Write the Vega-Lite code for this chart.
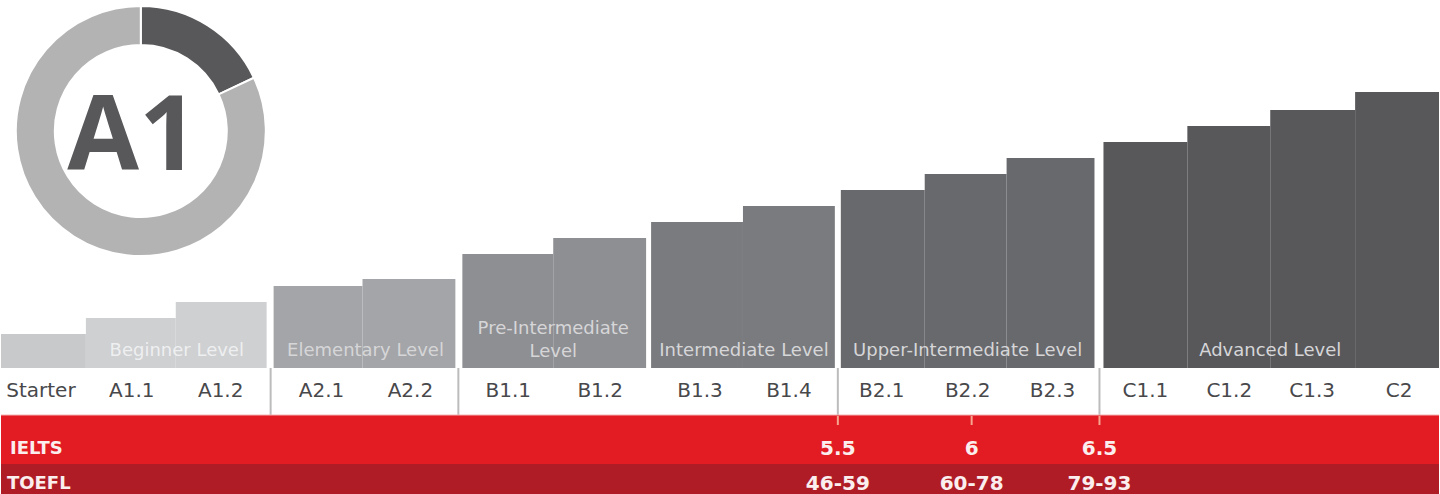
{
  "$schema": "https://vega.github.io/schema/vega-lite/v6.json",
  "width": 1440,
  "height": 494,
  "autosize": {"type": "fit", "contains": "padding"},
  "padding": 0,
  "background": "white",
  "config": {
    "view": {"stroke": null},
    "axis": {"disable": true},
    "text": {"font": "DejaVu Sans"}
  },
  "datasets": {
    "levels": [
      {"level": "Starter", "group": "Starter", "start": 0, "end": 85, "top": 34, "mid": 40},
      {"level": "A1.1", "group": "Beginner", "start": 85, "end": 175, "top": 50, "mid": 131},
      {"level": "A1.2", "group": "Beginner", "start": 175, "end": 266, "top": 66, "mid": 220},
      {"level": "A2.1", "group": "Elementary", "start": 273, "end": 362, "top": 82, "mid": 321},
      {"level": "A2.2", "group": "Elementary", "start": 362, "end": 455, "top": 89, "mid": 410},
      {"level": "B1.1", "group": "Pre-Intermediate", "start": 462, "end": 553, "top": 114, "mid": 508},
      {"level": "B1.2", "group": "Pre-Intermediate", "start": 553, "end": 646, "top": 130, "mid": 600},
      {"level": "B1.3", "group": "Intermediate", "start": 651, "end": 743, "top": 146, "mid": 700},
      {"level": "B1.4", "group": "Intermediate", "start": 743, "end": 835, "top": 162, "mid": 789},
      {"level": "B2.1", "group": "Upper-Intermediate", "start": 841, "end": 925, "top": 178, "mid": 882},
      {"level": "B2.2", "group": "Upper-Intermediate", "start": 925, "end": 1007, "top": 194, "mid": 968},
      {"level": "B2.3", "group": "Upper-Intermediate", "start": 1007, "end": 1095, "top": 210, "mid": 1053},
      {"level": "C1.1", "group": "Advanced", "start": 1104, "end": 1188, "top": 226, "mid": 1146},
      {"level": "C1.2", "group": "Advanced", "start": 1188, "end": 1271, "top": 242, "mid": 1230},
      {"level": "C1.3", "group": "Advanced", "start": 1271, "end": 1356, "top": 258, "mid": 1313},
      {"level": "C2", "group": "Advanced", "start": 1356, "end": 1440, "top": 276, "mid": 1400}
    ],
    "groups": [
      {"group": "Beginner", "label": ["Beginner Level"], "mid": 176},
      {"group": "Elementary", "label": ["Elementary Level"], "mid": 365},
      {"group": "Pre-Intermediate", "label": ["Pre-Intermediate", "Level"], "mid": 553},
      {"group": "Intermediate", "label": ["Intermediate Level"], "mid": 744},
      {"group": "Upper-Intermediate", "label": ["Upper-Intermediate Level"], "mid": 968},
      {"group": "Advanced", "label": ["Advanced Level"], "mid": 1271}
    ],
    "dividers": [{"at": 270}, {"at": 458}, {"at": 838}, {"at": 1100}],
    "scores": [
      {"at": 838, "ielts": "5.5", "toefl": "46-59"},
      {"at": 972, "ielts": "6", "toefl": "60-78"},
      {"at": 1100, "ielts": "6.5", "toefl": "79-93"}
    ],
    "progress": [
      {"part": "A1", "share": 18},
      {"part": "rest", "share": 82}
    ]
  },
  "resolve": {"scale": {"color": "independent"}},
  "layer": [
    {
      "data": {"name": "levels"},
      "mark": {"type": "rect"},
      "encoding": {
        "x": {"field": "start", "type": "quantitative", "scale": {"domain": [0, 1440], "nice": false, "zero": false}, "axis": null},
        "x2": {"field": "end"},
        "y": {"field": "top", "type": "quantitative", "scale": {"domain": [-126, 368], "nice": false, "zero": false}, "axis": null},
        "y2": {"datum": 0},
        "color": {
          "field": "group",
          "type": "nominal",
          "legend": null,
          "scale": {
            "domain": ["Starter", "Beginner", "Elementary", "Pre-Intermediate", "Intermediate", "Upper-Intermediate", "Advanced"],
            "range": ["#c8c9ca", "#cfd0d2", "#a4a5a8", "#8e8f93", "#7a7b7f", "#68696d", "#58585b"]
          }
        }
      }
    },
    {
      "data": {"name": "groups"},
      "transform": [{"filter": "length(datum.label) == 1"}],
      "mark": {"type": "text", "fontSize": 18, "baseline": "bottom", "lineHeight": 23, "align": "center"},
      "encoding": {
        "x": {"field": "mid", "type": "quantitative"},
        "y": {"datum": 8},
        "text": {"field": "label"},
        "color": {
          "condition": {"test": "datum.group === 'Beginner'", "value": "#eeeff0"},
          "value": "#d6d6d8"
        }
      }
    },
    {
      "data": {"name": "groups"},
      "transform": [{"filter": "length(datum.label) > 1"}],
      "mark": {"type": "text", "fontSize": 18, "baseline": "bottom", "lineHeight": 23, "align": "center", "fill": "#d6d6d8"},
      "encoding": {
        "x": {"field": "mid", "type": "quantitative"},
        "y": {"datum": 30},
        "text": {"field": "label"}
      }
    },
    {
      "data": {"name": "levels"},
      "mark": {"type": "text", "fontSize": 20, "baseline": "middle", "align": "center", "fill": "#48484b"},
      "encoding": {
        "x": {"field": "mid", "type": "quantitative"},
        "y": {"datum": -23},
        "text": {"field": "level"}
      }
    },
    {
      "data": {"name": "dividers"},
      "mark": {"type": "rule", "stroke": "#bcbcbe", "strokeWidth": 2},
      "encoding": {
        "x": {"field": "at", "type": "quantitative"},
        "y": {"datum": 0},
        "y2": {"datum": -48}
      }
    },
    {
      "data": {"values": [{"test": "IELTS"}]},
      "mark": {"type": "rect", "fill": "#e31b23"},
      "encoding": {
        "x": {"datum": 0},
        "x2": {"datum": 1440},
        "y": {"datum": -47},
        "y2": {"datum": -96}
      }
    },
    {
      "data": {"values": [{"test": "TOEFL"}]},
      "mark": {"type": "rect", "fill": "#b01c26"},
      "encoding": {
        "x": {"datum": 0},
        "x2": {"datum": 1440},
        "y": {"datum": -96},
        "y2": {"datum": -126}
      }
    },
    {
      "data": {"values": [{"test": "IELTS"}]},
      "mark": {"type": "rule", "stroke": "#f4b3b3", "strokeWidth": 1},
      "encoding": {
        "x": {"datum": 0},
        "x2": {"datum": 1440},
        "y": {"datum": -47}
      }
    },
    {
      "data": {"name": "scores"},
      "mark": {"type": "rule", "stroke": "#f6a58e", "strokeWidth": 2},
      "encoding": {
        "x": {"field": "at", "type": "quantitative"},
        "y": {"datum": -48},
        "y2": {"datum": -57}
      }
    },
    {
      "data": {"name": "scores"},
      "mark": {"type": "text", "fontSize": 20, "fontWeight": "bold", "baseline": "middle", "align": "center", "fill": "#fbeeee"},
      "encoding": {
        "x": {"field": "at", "type": "quantitative"},
        "y": {"datum": -81},
        "text": {"field": "ielts"}
      }
    },
    {
      "data": {"name": "scores"},
      "mark": {"type": "text", "fontSize": 20, "fontWeight": "bold", "baseline": "middle", "align": "center", "fill": "#fbeeee"},
      "encoding": {
        "x": {"field": "at", "type": "quantitative"},
        "y": {"datum": -116},
        "text": {"field": "toefl"}
      }
    },
    {
      "data": {"values": [{"test": "IELTS"}]},
      "mark": {"type": "text", "fontSize": 18, "fontWeight": "bold", "baseline": "middle", "align": "left", "fill": "#fbeeee"},
      "encoding": {
        "x": {"datum": 9},
        "y": {"datum": -81},
        "text": {"field": "test"}
      }
    },
    {
      "data": {"values": [{"test": "TOEFL"}]},
      "mark": {"type": "text", "fontSize": 18, "fontWeight": "bold", "baseline": "middle", "align": "left", "fill": "#fbeeee"},
      "encoding": {
        "x": {"datum": 6},
        "y": {"datum": -116},
        "text": {"field": "test"}
      }
    },
    {
      "data": {"name": "progress"},
      "mark": {"type": "arc", "radius": 125, "radius2": 86, "stroke": "white", "strokeWidth": 2},
      "encoding": {
        "x": {"datum": 140},
        "y": {"datum": 237},
        "theta": {"field": "share", "type": "quantitative"},
        "color": {
          "field": "part",
          "type": "nominal",
          "legend": null,
          "scale": {"domain": ["A1", "rest"], "range": ["#58585b", "#b3b3b3"]}
        }
      }
    },
    {
      "data": {"values": [{"level": "A1"}]},
      "mark": {"type": "text", "font": "Open Sans", "fontSize": 104, "fontWeight": "bold", "baseline": "alphabetic", "align": "center", "fill": "#58585b"},
      "encoding": {
        "x": {"datum": 132},
        "y": {"datum": 198},
        "text": {"field": "level"}
      }
    }
  ]
}
